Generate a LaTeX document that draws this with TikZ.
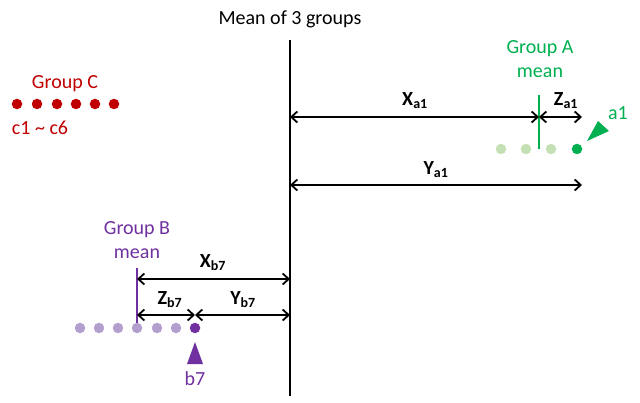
\documentclass[tikz,border=0pt]{standalone}
\usepackage{fontspec}
\setmainfont{Carlito}
\usetikzlibrary{arrows.meta}
\definecolor{cred}{HTML}{C00000}
\definecolor{cgreen}{HTML}{00B050}
\definecolor{lgreen}{HTML}{C5E0B4}
\definecolor{cpurple}{HTML}{7030A0}
\definecolor{lpurple}{RGB}{180,158,206}
\begin{document}
\begin{tikzpicture}[x=1pt,y=-1pt,
  lbl/.style={inner sep=0pt,font=\fontsize{20}{24}\selectfont},
  blbl/.style={inner sep=0pt,font=\fontsize{20}{24}\selectfont\bfseries},
  dot/.style={circle,inner sep=0pt,minimum size=10.5pt},
  meas/.style={line width=1.8pt,{Straight Barb[length=6pt,width=11pt]}-{Straight Barb[length=6pt,width=11pt]}},
  gline/.style={line width=2pt}]
\useasboundingbox (0,0) rectangle (640,403);
% axis
\node[lbl] (title) at (290,19) {Mean of 3 groups};
\coordinate (axtop) at (290,40);
\coordinate (axbot) at (290,396);
\draw[line width=2pt] (axtop) -- (axbot);
% group C
\node[lbl,text=cred] (gc) at (65,84) {Group C};
\foreach \i/\x in {1/17,2/37,3/57,4/76,5/95,6/114}
  \node[dot,fill=cred] (c\i) at (\x,104) {};
\node[lbl,text=cred] (crange) at (40,128) {c1 \char"7E{} c6};
% group A
\node[lbl,text=cgreen] (ga) at (540,49) {Group A};
\node[lbl,text=cgreen] (gam) at (540,73) {mean};
\coordinate (amtop) at (539,95);
\coordinate (ambot) at (539,149);
\draw[gline,cgreen] (amtop) -- (ambot);
\foreach \i/\x in {1/501,2/526,3/551}
  \node[dot,fill=lgreen] (a\i) at (\x,149) {};
\node[dot,fill=cgreen] (aa1) at (577,149) {};
\fill[cgreen] (587,141) -- (598,121) -- (609,131) -- cycle;
\node[lbl,text=cgreen] (la1) at (618,113) {a1};
\coordinate (xa0) at (290,117);
\coordinate (xa1) at (539,117);
\coordinate (za1) at (582,117);
\coordinate (ya0) at (290,185);
\coordinate (ya1) at (582,185);
\draw[meas] (xa0) -- (xa1);
\draw[meas] (xa1) -- (za1);
\draw[meas] (ya0) -- (ya1);
\node[blbl] (lxa) at (415,101) {X\textsubscript{a1}};
\node[blbl] (lza) at (566,101) {Z\textsubscript{a1}};
\node[blbl] (lya) at (436,170) {Y\textsubscript{a1}};
% group B
\node[lbl,text=cpurple] (gb) at (137,230) {Group B};
\node[lbl,text=cpurple] (gbm) at (137,254) {mean};
\coordinate (bmtop) at (137,268);
\coordinate (bmbot) at (137,327);
\draw[gline,cpurple] (bmtop) -- (bmbot);
\foreach \i/\x in {1/80,2/99,3/118,4/137,5/157,6/176}
  \node[dot,fill=lpurple] (b\i) at (\x,328) {};
\node[dot,fill=cpurple] (bb7) at (195,328) {};
\fill[cpurple] (195,342) -- (203,364) -- (187,364) -- cycle;
\node[lbl,text=cpurple] (lb7) at (195,379) {b7};
\coordinate (xb0) at (137,279);
\coordinate (xb1) at (290,279);
\coordinate (zb0) at (137,315);
\coordinate (zb1) at (195,315);
\coordinate (yb1) at (290,315);
\draw[meas] (xb0) -- (xb1);
\draw[meas] (zb0) -- (zb1);
\draw[meas] (zb1) -- (yb1);
\node[blbl] (lxb) at (213,263) {X\textsubscript{b7}};
\node[blbl] (lzb) at (170,300) {Z\textsubscript{b7}};
\node[blbl] (lyb) at (243,300) {Y\textsubscript{b7}};
\end{tikzpicture}
\end{document}
